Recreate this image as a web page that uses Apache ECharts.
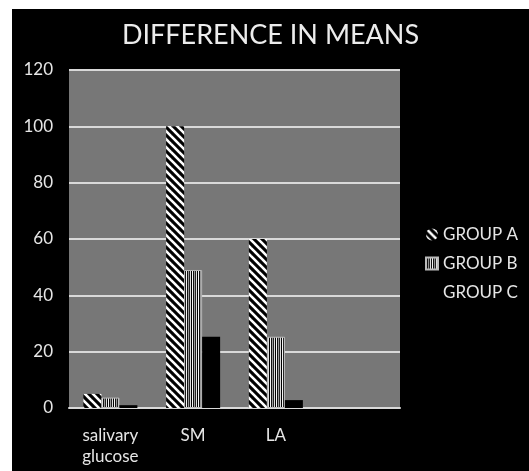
<!DOCTYPE html>
<html>
<head>
  <meta charset="utf-8">
  <title>Difference in means</title>
  <script src="https://cdn.jsdelivr.net/npm/echarts@6/dist/echarts.min.js"></script>
  <style>
    html, body { margin: 0; padding: 0; background: #fff; }
    #chart-container {
      position: absolute;
      left: 12px;
      top: 9px;
      width: 517px;
      height: 462px;
    }
  </style>
</head>
<body>
<div id="chart-container"></div>

<script>
  // 数据
  var categories = ['salivary\nglucose', 'SM', 'LA', ''];
  var groupA = [5, 100, 60, null];
  var groupB = [3.7, 49, 25.3, null];
  var groupC = [1, 25.3, 2.8, null];
  var yTicks = [0, 20, 40, 60, 80, 100, 120];

  // 斜线填充 (GROUP A)
  function diagPattern() {
    var c = document.createElement('canvas');
    c.width = 8; c.height = 8;
    var ctx = c.getContext('2d');
    ctx.fillStyle = '#000';
    ctx.fillRect(0, 0, 8, 8);
    ctx.strokeStyle = '#fff';
    ctx.lineWidth = 2.6;
    for (var k = -8; k <= 8; k += 8) {
      ctx.beginPath();
      ctx.moveTo(k - 1, -1);
      ctx.lineTo(k + 9, 9);
      ctx.stroke();
    }
    return c;
  }

  // 竖线填充 (GROUP B)
  function vertPattern() {
    var cols = ['#f4f4f4', '#111', '#999', '#222', '#ddd', '#000'];
    var c = document.createElement('canvas');
    c.width = cols.length; c.height = 4;
    var ctx = c.getContext('2d');
    cols.forEach(function (col, i) {
      ctx.fillStyle = col;
      ctx.fillRect(i, 0, 1, 4);
    });
    return c;
  }

  var fillA = { image: diagPattern(), repeat: 'repeat' };
  var fillB = { image: vertPattern(), repeat: 'repeat' };

  var myChart = echarts.init(document.getElementById('chart-container'));

  var font = 'Lato, "DejaVu Sans", sans-serif';

  myChart.setOption({
    animation: false,
    backgroundColor: '#000',
    textStyle: { fontFamily: font },
    title: {
      text: 'DIFFERENCE IN MEANS',
      left: 'center',
      top: 8,
      textStyle: { color: '#ececec', fontSize: 27, fontWeight: 'normal', fontFamily: font }
    },
    legend: {
      orient: 'vertical',
      left: 408,
      top: 212,
      itemGap: 12,
      itemWidth: 12,
      itemHeight: 12,
      textStyle: { color: '#e6e6e6', fontSize: 17, fontFamily: font },
      data: [
        { name: 'GROUP A', icon: 'circle' },
        { name: 'GROUP B', icon: 'rect' },
        { name: 'GROUP C', icon: 'rect' }
      ]
    },
    grid: {
      left: 57,
      top: 61,
      width: 331,
      height: 338,
      show: true,
      backgroundColor: '#777',
      borderWidth: 0
    },
    xAxis: {
      type: 'category',
      data: categories,
      axisLine: { show: true, lineStyle: { color: '#d9d9d9', width: 2 } },
      axisTick: { show: false },
      axisLabel: { color: '#e6e6e6', fontSize: 17, margin: 17, lineHeight: 21, interval: 0 }
    },
    yAxis: {
      type: 'value',
      min: yTicks[0],
      max: yTicks[yTicks.length - 1],
      interval: 20,
      axisLine: { show: false },
      axisTick: { show: false },
      axisLabel: { color: '#e6e6e6', fontSize: 17, margin: 16 },
      splitLine: { lineStyle: { color: '#d9d9d9', width: 2 } }
    },
    series: [
      { name: 'GROUP A', type: 'bar', data: groupA, barWidth: 18, barGap: '0%',
        itemStyle: { color: fillA } },
      { name: 'GROUP B', type: 'bar', data: groupB, barWidth: 18, barGap: '0%',
        itemStyle: { color: fillB, borderColor: '#bbb', borderWidth: 1 } },
      { name: 'GROUP C', type: 'bar', data: groupC, barWidth: 18, barGap: '0%',
        itemStyle: { color: '#000' } }
    ]
  });
</script>
</body>
</html>
